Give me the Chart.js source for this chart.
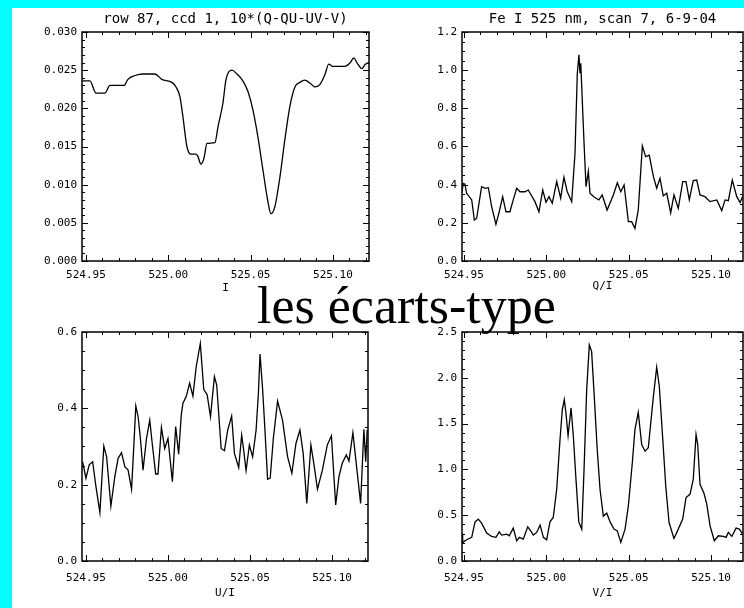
<!DOCTYPE html>
<html><head><meta charset="utf-8">
<script src="https://cdn.jsdelivr.net/npm/chart.js@4.4.1/dist/chart.umd.min.js"></script>
<style>
html,body{margin:0;padding:0;width:744px;height:608px;overflow:hidden;background:#00ffff;}
#page{position:absolute;left:12px;top:8px;width:732px;height:600px;background:#ffffff;}
canvas{position:absolute;}
#caption{position:absolute;left:257px;top:280px;font-family:"Liberation Serif","Times New Roman",serif;font-size:52px;line-height:1;color:#000;white-space:nowrap;z-index:5;}
</style></head>
<body>
<div id="page"></div>
<canvas id="cTL" width="360" height="292" style="left:12px;top:8px"></canvas>
<canvas id="cTR" width="352" height="292" style="left:392px;top:8px"></canvas>
<canvas id="cBL" width="360" height="308" style="left:12px;top:300px"></canvas>
<canvas id="cBR" width="352" height="308" style="left:392px;top:300px"></canvas>
<div id="caption">les écarts-type</div>
<script>
// ---------- data ----------
const xTicks = [524.95, 525.00, 525.05, 525.10];
const yTicksI = [0.000, 0.005, 0.010, 0.015, 0.020, 0.025, 0.030];
const yTicksQ = [0.0, 0.2, 0.4, 0.6, 0.8, 1.0, 1.2];
const yTicksU = [0.0, 0.2, 0.4, 0.6];
const yTicksV = [0.0, 0.5, 1.0, 1.5, 2.0, 2.5];

const titleI = "row 87, ccd 1, 10*(Q-QU-UV-V)";
const titleQ = "Fe I 525 nm, scan 7, 6-9-04";

const waveI = [524.9476,524.9524,524.9561,524.9615,524.9646,524.9731,524.9755,524.9798,524.9846,524.9919,524.9961,525.0022,525.0047,525.0071,525.0089,525.0113,525.0138,525.0168,525.0180,525.0198,525.0217,525.0235,525.0283,525.0302,525.0332,525.0350,525.0387,525.0417,525.0453,525.0484,525.0514,525.0544,525.0575,525.0605,525.0623,525.0647,525.0678,525.0708,525.0738,525.0769,525.0799,525.0829,525.0872,525.0890,525.0920,525.0951,525.0975,525.0999,525.1072,525.1102,525.1127,525.1145,525.1176,525.1194,525.1218];
const valI = [0.0236,0.0236,0.0220,0.0220,0.0230,0.0230,0.0238,0.0243,0.0245,0.0245,0.0238,0.0234,0.0228,0.0215,0.0189,0.0150,0.0140,0.0140,0.0137,0.0127,0.0135,0.0154,0.0155,0.0176,0.0207,0.0237,0.0250,0.0245,0.0236,0.0222,0.0198,0.0163,0.0119,0.0078,0.0062,0.0071,0.0110,0.0159,0.0202,0.0228,0.0234,0.0237,0.0231,0.0228,0.0231,0.0244,0.0258,0.0255,0.0255,0.0259,0.0266,0.0260,0.0252,0.0257,0.0260];

const waveQ = [524.9486,524.9496,524.9506,524.9516,524.9547,524.9563,524.9577,524.9607,524.9628,524.9648,524.9668,524.9694,524.9714,524.9735,524.9755,524.9779,524.9799,524.9820,524.9840,524.9870,524.9890,524.9931,524.9955,524.9978,524.9998,525.0016,525.0036,525.0063,525.0087,525.0107,525.0127,525.0154,525.0174,525.0188,525.0198,525.0204,525.0209,525.0229,525.0241,525.0255,525.0265,525.0288,525.0319,525.0339,525.0369,525.0407,525.0431,525.0452,525.0472,525.0498,525.0518,525.0538,525.0558,525.0583,525.0603,525.0625,525.0650,525.0670,525.0690,525.0710,525.0731,525.0755,525.0775,525.0801,525.0828,525.0848,525.0868,525.0892,525.0913,525.0933,525.0963,525.0994,525.1035,525.1065,525.1085,525.1105,525.1129,525.1156,525.1176,525.1196];
const valQ = [0.355,0.407,0.403,0.355,0.320,0.215,0.224,0.389,0.381,0.384,0.285,0.192,0.258,0.337,0.258,0.258,0.320,0.381,0.363,0.363,0.372,0.311,0.258,0.372,0.308,0.337,0.302,0.416,0.329,0.439,0.363,0.311,0.564,0.984,1.080,0.984,1.036,0.617,0.389,0.470,0.355,0.337,0.320,0.346,0.267,0.346,0.410,0.363,0.398,0.206,0.206,0.171,0.267,0.603,0.547,0.555,0.442,0.381,0.433,0.341,0.355,0.253,0.346,0.276,0.416,0.416,0.320,0.421,0.424,0.346,0.337,0.311,0.320,0.264,0.320,0.316,0.424,0.337,0.306,0.346];

const waveU = [524.9480,524.9500,524.9520,524.9541,524.9561,524.9585,524.9609,524.9626,524.9652,524.9676,524.9696,524.9717,524.9737,524.9757,524.9778,524.9791,524.9804,524.9818,524.9832,524.9848,524.9869,524.9889,524.9905,524.9925,524.9939,524.9960,524.9980,525.0000,525.0027,525.0047,525.0065,525.0081,525.0091,525.0112,525.0132,525.0152,525.0172,525.0197,525.0218,525.0239,525.0259,525.0283,525.0297,525.0324,525.0344,525.0364,525.0388,525.0405,525.0431,525.0449,525.0461,525.0476,525.0496,525.0516,525.0537,525.0551,525.0561,525.0577,525.0591,525.0607,525.0623,525.0642,525.0668,525.0698,525.0729,525.0755,525.0780,525.0804,525.0824,525.0846,525.0871,525.0891,525.0911,525.0941,525.0971,525.0996,525.1022,525.1042,525.1062,525.1087,525.1103,525.1127,525.1143,525.1174,525.1194,525.1205,525.1214];
const valU = [0.260,0.217,0.252,0.260,0.195,0.127,0.301,0.273,0.144,0.221,0.269,0.284,0.247,0.238,0.188,0.295,0.406,0.378,0.321,0.238,0.321,0.369,0.304,0.228,0.228,0.350,0.295,0.321,0.208,0.352,0.280,0.383,0.413,0.432,0.466,0.432,0.509,0.570,0.450,0.435,0.378,0.483,0.461,0.295,0.289,0.343,0.380,0.282,0.245,0.330,0.291,0.237,0.304,0.273,0.343,0.439,0.542,0.448,0.343,0.214,0.217,0.321,0.419,0.369,0.273,0.230,0.308,0.343,0.282,0.151,0.304,0.249,0.188,0.238,0.304,0.328,0.147,0.221,0.256,0.278,0.262,0.336,0.273,0.151,0.345,0.260,0.343];

const waveV = [524.9488,524.9492,524.9516,524.9547,524.9567,524.9587,524.9607,524.9638,524.9668,524.9694,524.9714,524.9729,524.9759,524.9775,524.9799,524.9820,524.9836,524.9860,524.9887,524.9905,524.9921,524.9941,524.9962,524.9982,525.0002,525.0022,525.0042,525.0063,525.0083,525.0097,525.0109,525.0119,525.0132,525.0150,525.0164,525.0180,525.0197,525.0215,525.0229,525.0245,525.0261,525.0275,525.0291,525.0309,525.0326,525.0346,525.0367,525.0387,525.0411,525.0431,525.0452,525.0478,525.0498,525.0522,525.0538,525.0558,525.0579,525.0599,525.0619,525.0634,525.0650,525.0670,525.0686,525.0707,525.0725,525.0745,525.0775,525.0801,525.0828,525.0848,525.0872,525.0892,525.0909,525.0919,525.0933,525.0957,525.0974,525.0994,525.1020,525.1044,525.1075,525.1091,525.1105,525.1126,525.1152,525.1172,525.1192];
const valV = [0.300,0.203,0.232,0.258,0.427,0.457,0.413,0.304,0.268,0.258,0.318,0.283,0.293,0.275,0.359,0.221,0.258,0.239,0.373,0.329,0.283,0.312,0.391,0.258,0.232,0.427,0.475,0.783,1.326,1.652,1.761,1.616,1.370,1.671,1.362,0.891,0.427,0.348,1.000,1.870,2.359,2.286,1.797,1.217,0.783,0.490,0.522,0.427,0.348,0.329,0.203,0.348,0.601,1.073,1.435,1.623,1.272,1.199,1.236,1.508,1.797,2.116,1.905,1.326,0.818,0.420,0.246,0.348,0.457,0.692,0.728,0.891,1.380,1.272,0.837,0.739,0.620,0.384,0.221,0.275,0.268,0.258,0.312,0.268,0.359,0.348,0.293];

// ---------- drawing ----------
const MONO = '"DejaVu Sans Mono", "Liberation Mono", monospace';

const idlFrame = {
  id: 'idlFrame',
  afterDatasetsDraw(chart, args, opts) {
    const {ctx, chartArea: a, scales: {x, y}} = chart;
    ctx.save();
    ctx.strokeStyle = '#000';
    ctx.lineWidth = 1.5;
    ctx.strokeRect(a.left, a.top, a.right - a.left, a.bottom - a.top);
    ctx.lineWidth = 1;
    const drawX = (step, len) => {
      for (let i = Math.ceil(x.min / step - 1e-6); i * step <= x.max + 1e-9; i++) {
        const px = Math.round(x.getPixelForValue(i * step)) + 0.5;
        ctx.beginPath();
        ctx.moveTo(px, a.bottom); ctx.lineTo(px, a.bottom - len);
        ctx.moveTo(px, a.top); ctx.lineTo(px, a.top + len);
        ctx.stroke();
      }
    };
    const drawY = (step, len) => {
      for (let i = Math.ceil(y.min / step - 1e-6); i * step <= y.max + 1e-9; i++) {
        const py = Math.round(y.getPixelForValue(i * step)) + 0.5;
        ctx.beginPath();
        ctx.moveTo(a.left, py); ctx.lineTo(a.left + len, py);
        ctx.moveTo(a.right, py); ctx.lineTo(a.right - len, py);
        ctx.stroke();
      }
    };
    drawX(opts.xMajor, 6); drawX(opts.xMinor, 3);
    drawY(opts.yMajor, 6); drawY(opts.yMinor, 3);
    ctx.restore();
  }
};

function makePanel(id, p) {
  const data = p.wave.map((w, i) => ({x: w, y: p.vals[i]}));
  new Chart(document.getElementById(id), {
    type: 'line',
    data: {datasets: [{data, borderColor: '#000', borderWidth: 1.3, pointRadius: 0,
      tension: p.smooth ? 0.4 : 0, cubicInterpolationMode: p.smooth ? 'monotone' : 'default'}]},
    options: {
      responsive: false, animation: false, devicePixelRatio: 1,
      layout: {padding: {left: 0, top: p.padTop, right: p.padRight, bottom: 0}},
      plugins: {
        legend: {display: false}, tooltip: {enabled: false},
        title: {display: !!p.title, text: p.title || '', color: '#000', fullSize: false,
          font: {family: MONO, size: 14, weight: 'normal', lineHeight: 1}, padding: {top: 0, bottom: 6}},
        idlFrame: {xMajor: 0.05, xMinor: 0.01, yMajor: p.yMajor, yMinor: p.yMinor}
      },
      scales: {
        x: {type: 'linear', min: p.xr[0], max: p.xr[1],
          afterFit: s => { s.height = p.xH; },
          afterBuildTicks: s => { s.ticks = xTicks.map(v => ({value: v})); },
          grid: {display: false, drawTicks: false}, border: {display: false},
          ticks: {padding: p.xPad, color: '#000', maxRotation: 0, autoSkip: false,
            font: {family: MONO, size: 11}, callback: v => v.toFixed(2)},
          title: {display: true, text: p.xTitle, color: '#000',
            font: {family: MONO, size: 11, lineHeight: 1}, padding: {top: 0, bottom: p.xTitlePad}}},
        y: {type: 'linear', min: p.yTicks[0], max: p.yTicks[p.yTicks.length - 1],
          afterFit: s => { s.width = 70; },
          afterBuildTicks: s => { s.ticks = p.yTicks.map(v => ({value: v})); },
          grid: {display: false, drawTicks: false}, border: {display: false},
          ticks: {padding: 5, color: '#000', autoSkip: false,
            font: {family: MONO, size: 11}, callback: v => v.toFixed(p.yDec)}}
      }
    },
    plugins: [idlFrame]
  });
}

makePanel('cTL', {wave: waveI, vals: valI, smooth: true, title: titleI, xTitle: 'I',
  xr: [524.9476, 525.1219], yTicks: yTicksI, yDec: 3, yMajor: 0.005, yMinor: 0.001,
  padTop: 4, padRight: 3, xH: 39, xPad: 8, xTitlePad: 6});
makePanel('cTR', {wave: waveQ, vals: valQ, title: titleQ, xTitle: 'Q/I',
  xr: [524.9488, 525.1194], yTicks: yTicksQ, yDec: 1, yMajor: 0.2, yMinor: 0.05,
  padTop: 4, padRight: 1, xH: 39, xPad: 8, xTitlePad: 8});
makePanel('cBL', {wave: waveU, vals: valU, xTitle: 'U/I',
  xr: [524.9476, 525.1219], yTicks: yTicksU, yDec: 1, yMajor: 0.2, yMinor: 0.05,
  padTop: 32, padRight: 4, xH: 47, xPad: 11, xTitlePad: 9});
makePanel('cBR', {wave: waveV, vals: valV, xTitle: 'V/I',
  xr: [524.9488, 525.1194], yTicks: yTicksV, yDec: 1, yMajor: 0.5, yMinor: 0.1,
  padTop: 32, padRight: 1, xH: 47, xPad: 11, xTitlePad: 9});
</script>
</body></html>
